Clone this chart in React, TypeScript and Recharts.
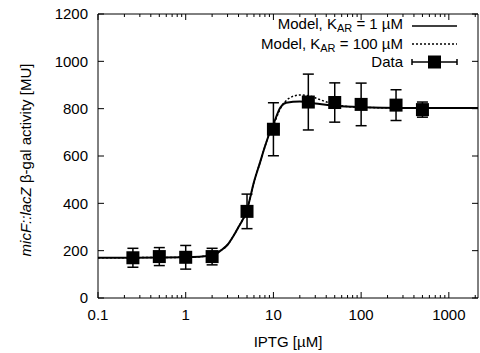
import React from 'react';
import { ComposedChart, Line, Scatter, ErrorBar, XAxis, YAxis, Legend } from 'recharts';

const FONT = '"Liberation Sans", Arial, Helvetica, sans-serif';

// measured points (IPTG in uM, activity in MU)
const dataX = [0.25, 0.5, 1, 2, 5, 10, 25, 50, 100, 250, 500];
const dataY = [170, 175, 172, 175, 366, 713, 828, 826, 818, 815, 796];
const dataErr = [40, 38, 50, 35, 73, 112, 118, 83, 90, 65, 32];

// model, K_AR = 1 uM
const model1X = [0.1, 1, 2, 2.5, 3, 3.5, 4, 5, 6, 7, 8, 9, 10, 12, 14, 20, 30, 50, 100, 300, 2150];
const model1Y = [170, 172, 180, 200, 225, 262, 300, 372, 490, 570, 640, 695, 735, 805, 825, 830, 822, 812, 806, 803, 803];

// model, K_AR = 100 uM
const model2X = [0.1, 1, 2, 2.5, 3, 3.5, 4, 5, 6, 7, 8, 9, 10, 12, 15, 20, 25, 33, 45, 60, 100, 300, 2150];
const model2Y = [170, 172, 180, 200, 225, 262, 300, 372, 490, 570, 640, 695, 730, 800, 843, 858, 855, 840, 822, 812, 806, 803, 803];

const xMajor = [0.1, 1, 10, 100, 1000];
const xTicks = [
  0.1, 0.2, 0.3, 0.4, 0.5, 0.6, 0.7, 0.8, 0.9,
  1, 2, 3, 4, 5, 6, 7, 8, 9,
  10, 20, 30, 40, 50, 60, 70, 80, 90,
  100, 200, 300, 400, 500, 600, 700, 800, 900,
  1000, 2000,
];
const yTicks = [0, 200, 400, 600, 800, 1000, 1200];

const points = dataX.map((x, i) => ({ x, y: dataY[i], err: dataErr[i] }));
const model1 = model1X.map((x, i) => ({ x, y: model1Y[i] }));
const model2 = model2X.map((x, i) => ({ x, y: model2Y[i] }));

const BottomTick = (p: any) => {
  const v = p.payload.value;
  const major = xMajor.includes(v);
  return (
    <g>
      <line x1={p.x} y1={p.y} x2={p.x} y2={p.y - (major ? 6 : 3)} stroke="#000" />
      {major && (
        <text x={p.x} y={p.y + 17} dy="0.35em" textAnchor="middle" fontSize={15} fontFamily={FONT} fill="#000">
          {String(v)}
        </text>
      )}
    </g>
  );
};

const TopTick = (p: any) => {
  const major = xMajor.includes(p.payload.value);
  return <line x1={p.x} y1={p.y} x2={p.x} y2={p.y + (major ? 6 : 3)} stroke="#000" />;
};

const LeftTick = (p: any) => (
  <g>
    <line x1={p.x} y1={p.y} x2={p.x + 6} y2={p.y} stroke="#000" />
    <text x={p.x - 10} y={p.y} dy="0.35em" textAnchor="end" fontSize={15} fontFamily={FONT} fill="#000">
      {p.payload.value}
    </text>
  </g>
);

const RightTick = (p: any) => <line x1={p.x} y1={p.y} x2={p.x - 6} y2={p.y} stroke="#000" />;

const Square = (p: any) => <rect x={p.cx - 6.5} y={p.cy - 6.5} width={13} height={13} fill="#000" />;

const LegendBox = () => (
  <svg width={480} height={80} style={{ display: 'block' }}>
    <g fontFamily={FONT} fontSize={15} fill="#000" textAnchor="end">
      <text x={403} y={24} dy="0.35em">
        Model, K<tspan fontSize={11} dy={2.5}>AR</tspan><tspan dy={-2.5}> = 1 µM</tspan>
      </text>
      <text x={403} y={44} dy="0.35em">
        Model, K<tspan fontSize={11} dy={2.5}>AR</tspan><tspan dy={-2.5}> = 100 µM</tspan>
      </text>
      <text x={403} y={62} dy="0.35em">Data</text>
    </g>
    <line x1={412} y1={26} x2={457} y2={26} stroke="#000" strokeWidth={1.5} />
    <line x1={412} y1={44} x2={457} y2={44} stroke="#000" strokeWidth={1.5} strokeDasharray="2 2" />
    <line x1={412} y1={62} x2={457} y2={62} stroke="#000" strokeWidth={1.5} />
    <line x1={412} y1={59} x2={412} y2={65} stroke="#000" strokeWidth={1.5} />
    <line x1={457} y1={59} x2={457} y2={65} stroke="#000" strokeWidth={1.5} />
    <rect x={428} y={55.5} width={13} height={13} fill="#000" />
  </svg>
);

const XLabel = (p: any) => {
  const vb = p.viewBox;
  return (
    <text x={vb.x + vb.width / 2} y={vb.y + 44} dy="0.35em" textAnchor="middle" fontSize={15} fontFamily={FONT} fill="#000">
      IPTG [µM]
    </text>
  );
};

const YLabel = () => (
  <text x={25} y={160} transform="rotate(-90 25 160)" dominantBaseline="central" textAnchor="middle" fontSize={15} fontFamily={FONT} fill="#000">
    <tspan fontStyle="italic">micF::lacZ</tspan> β-gal activity [MU]
  </text>
);

export default function App() {
  return (
    <div style={{ position: 'absolute', left: 0, top: 0, background: '#fff' }}>
      <ComposedChart width={480} height={353} margin={{ top: 13, right: 1, bottom: 0, left: 0 }}>
        <XAxis
          dataKey="x"
          type="number"
          scale="log"
          domain={[0.1, 2150]}
          allowDataOverflow
          ticks={xTicks}
          interval={0}
          height={55}
          tickSize={0}
          tickMargin={0}
          tick={<BottomTick />}
          axisLine={{ stroke: '#000' }}
          label={<XLabel />}
        />
        <XAxis
          xAxisId="t"
          orientation="top"
          dataKey="x"
          type="number"
          scale="log"
          domain={[0.1, 2150]}
          allowDataOverflow
          ticks={xTicks}
          interval={0}
          height={1}
          tickSize={0}
          tickMargin={0}
          tick={<TopTick />}
          axisLine={{ stroke: '#000' }}
        />
        <YAxis
          dataKey="y"
          type="number"
          domain={[0, 1200]}
          ticks={yTicks}
          interval={0}
          width={98}
          tickSize={0}
          tickMargin={0}
          tick={<LeftTick />}
          axisLine={{ stroke: '#000' }}
          label={<YLabel />}
        />
        <YAxis
          yAxisId="r"
          orientation="right"
          dataKey="y"
          type="number"
          domain={[0, 1200]}
          allowDataOverflow
          ticks={yTicks}
          interval={0}
          width={1}
          tickSize={0}
          tickMargin={0}
          tick={<RightTick />}
          axisLine={{ stroke: '#000' }}
        />
        <Legend
          layout="vertical"
          align="center"
          verticalAlign="middle"
          content={<LegendBox />}
          wrapperStyle={{ position: 'absolute', left: 0, top: 0, width: 480, height: 80 }}
        />
        <Line
          xAxisId="t"
          yAxisId="r"
          data={model2}
          dataKey="y"
          type="monotone"
          stroke="#000"
          strokeWidth={1.5}
          strokeDasharray="2 2"
          dot={false}
          isAnimationActive={false}
          legendType="none"
        />
        <Line data={model1} dataKey="y" type="monotone" stroke="#000" strokeWidth={2} dot={false} isAnimationActive={false} legendType="none" />
        <Scatter data={points} dataKey="y" shape={<Square />} isAnimationActive={false} legendType="none">
          <ErrorBar dataKey="err" direction="y" width={5.5} stroke="#000" strokeWidth={1.5} />
        </Scatter>
      </ComposedChart>
    </div>
  );
}
